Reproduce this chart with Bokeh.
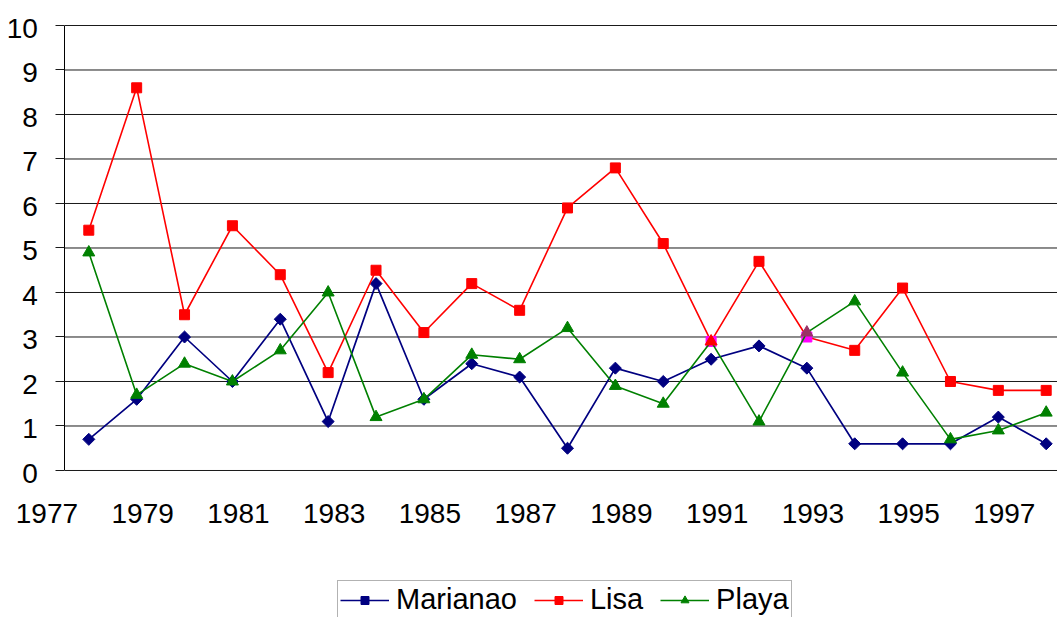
import math
from bokeh.plotting import figure
from bokeh.models import Range1d, FixedTicker, Legend, LegendItem, LinearAxis
from bokeh.embed import file_html
from bokeh.resources import INLINE

# ---- data ----
years = list(range(1978, 1999))
marianao = [0.7, 1.6, 3.0, 2.0, 3.4, 1.1, 4.2, 1.6, 2.4, 2.1, 0.5,
            2.3, 2.0, 2.5, 2.8, 2.3, 0.6, 0.6, 0.6, 1.2, 0.6]
lisa = [5.4, 8.6, 3.5, 5.5, 4.4, 2.2, 4.5, 3.1, 4.2, 3.6, 5.9,
        6.8, 5.1, 2.9, 4.7, 3.0, 2.7, 4.1, 2.0, 1.8, 1.8]
playa = [4.9, 1.7, 2.4, 2.0, 2.7, 4.0, 1.2, 1.6, 2.6, 2.5, 3.2,
         1.9, 1.5, 2.9, 1.1, 3.1, 3.8, 2.2, 0.7, 0.9, 1.3]
x_tick_years = [1977, 1979, 1981, 1983, 1985, 1987, 1989, 1991, 1993, 1995, 1997]
y_ticks = [0, 1, 2, 3, 4, 5, 6, 7, 8, 9, 10]
series_names = ["Marianao", "Lisa", "Playa"]

# ---- styles ----
NAVY, RED, GREEN = "#000080", "#FF0000", "#008000"
lisa_marker_colors = [RED] * len(years)
playa_marker_colors = [GREEN] * len(years)
lisa_marker_colors[years.index(1991)] = "#FF00FF"
lisa_marker_colors[years.index(1993)] = "#FF00FF"
playa_marker_colors[years.index(1991)] = RED
playa_marker_colors[years.index(1993)] = "#993366"

FONT = "Liberation Sans"
W, H = 1057, 617
# plot area spans the whole canvas; axes are placed at fixed data locations
X_START, X_END = 1976.1555, 1998.236
Y_START, Y_END = -3.3034, 10.5618
Y_AXIS_AT = 1977.5
X_LABEL_SHIFT = 0.125   # tick labels sit slightly right of the year positions
Y_LABEL_SHIFT = 0.0674  # and slightly below the gridlines

p = figure(frame_width=W, frame_height=H,
           x_range=Range1d(X_START, X_END), y_range=Range1d(Y_START, Y_END),
           output_backend="svg", toolbar_location=None,
           min_border_left=0, min_border_right=0,
           min_border_top=0, min_border_bottom=0)
p.extra_x_ranges = {"xlabels": Range1d(X_START - X_LABEL_SHIFT, X_END - X_LABEL_SHIFT)}
p.extra_y_ranges = {"ylabels": Range1d(Y_START + Y_LABEL_SHIFT, Y_END + Y_LABEL_SHIFT)}
p.outline_line_color = None
p.background_fill_color = "white"
p.border_fill_color = "white"
p.xgrid.visible = False
p.ygrid.visible = False
p.xaxis.visible = False

# horizontal gridlines starting at the y axis
p.segment(x0=Y_AXIS_AT, x1=X_END, y0=y_ticks, y1=y_ticks,
          line_color="#1a1a1a", line_width=1)

# x axis (labels only) on the y = 0 line
xa = LinearAxis(x_range_name="xlabels", fixed_location=0)
xa.ticker = FixedTicker(ticks=x_tick_years, minor_ticks=[])
xa.axis_line_color = None
xa.major_tick_line_color = None
xa.minor_tick_line_color = None
xa.major_label_standoff = 28
xa.major_label_text_font = FONT
xa.major_label_text_font_size = "28px"
xa.major_label_text_color = "black"
p.add_layout(xa, "below")

# y axis line and ticks crossing at Y_AXIS_AT
ya = p.yaxis[0]
ya.fixed_location = Y_AXIS_AT
ya.bounds = (0, 10)
ya.ticker = FixedTicker(ticks=y_ticks, minor_ticks=[])
ya.axis_line_color = "black"
ya.axis_line_width = 1
ya.major_tick_in = 0
ya.major_tick_out = 9
ya.major_tick_line_color = "#1a1a1a"
ya.minor_tick_line_color = None
ya.major_label_text_font_size = "0px"
ya.major_label_text_alpha = 0

# y tick labels
yl = LinearAxis(y_range_name="ylabels", fixed_location=Y_AXIS_AT)
yl.ticker = FixedTicker(ticks=y_ticks, minor_ticks=[])
yl.axis_line_color = None
yl.major_tick_line_color = None
yl.minor_tick_line_color = None
yl.major_label_standoff = 21
yl.major_label_text_font = FONT
yl.major_label_text_font_size = "28px"
yl.major_label_text_color = "black"
p.add_layout(yl, "left")

# series
l1 = p.line(years, marianao, line_color=NAVY, line_width=1.7)
m1 = p.scatter(years, marianao, marker="square", angle=math.pi / 4, size=8.5,
               fill_color=NAVY, line_color=NAVY)
l2 = p.line(years, lisa, line_color=RED, line_width=1.6)
m2 = p.scatter(years, lisa, marker="square", size=10,
               fill_color=lisa_marker_colors, line_color=lisa_marker_colors)
l3 = p.line(years, playa, line_color=GREEN, line_width=1.6)
m3 = p.scatter(years, playa, marker="triangle", size=12,
               fill_color=playa_marker_colors, line_color=playa_marker_colors)

legend = Legend(items=[
    LegendItem(label=series_names[0], renderers=[l1, m1]),
    LegendItem(label=series_names[1], renderers=[l2, m2]),
    LegendItem(label=series_names[2], renderers=[l3, m3]),
], orientation="horizontal", location=(337, -2))
legend.label_text_font = FONT
legend.label_text_font_size = "29px"
legend.label_text_color = "black"
legend.glyph_width = 49
legend.glyph_height = 20
legend.label_standoff = 7
legend.spacing = 17
legend.padding = 2
legend.margin = 0
legend.border_line_color = "#666666"
legend.border_line_width = 1
legend.background_fill_color = "white"
legend.background_fill_alpha = 1
p.add_layout(legend, "center")

open("out.html", "w").write(file_html(p, INLINE))
